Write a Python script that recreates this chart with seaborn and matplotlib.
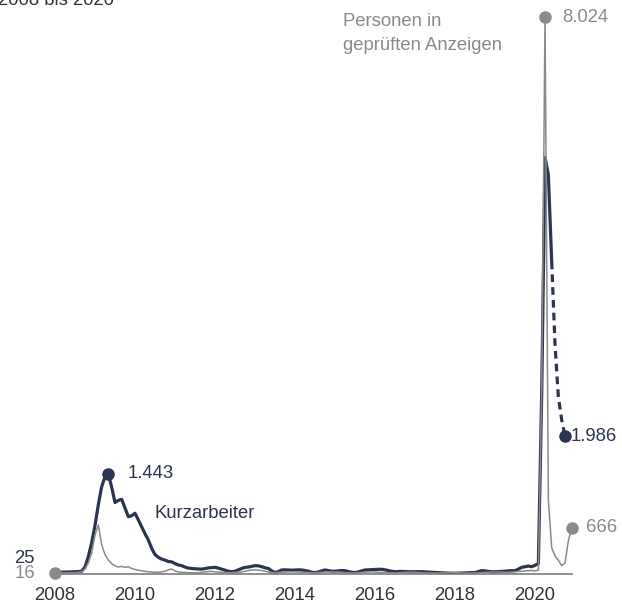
import numpy as np
import pandas as pd
import matplotlib
matplotlib.use("Agg")
import matplotlib.pyplot as plt
import seaborn as sns

# Monatswerte in Tausend Personen, ab Januar 2008
anzeigen = [
    16, 15, 15, 16, 17, 18, 20, 24, 35, 70, 160, 300,            # 2008
    560, 706, 420, 280, 200, 150, 120, 100, 110, 95, 105, 80,    # 2009
    65, 55, 45, 38, 32, 28, 25, 25, 30, 40, 60, 72,              # 2010
    45, 30, 25, 22, 20, 18, 18, 20, 25, 30, 35, 38,              # 2011
    30, 28, 25, 22, 20, 20, 22, 25, 30, 38, 50, 58,              # 2012
    60, 55, 50, 40, 30, 22, 20, 22, 25, 28, 30, 30,              # 2013
    30, 28, 25, 22, 20, 18, 18, 20, 24, 28, 30, 32,              # 2014
    30, 28, 24, 20, 18, 16, 16, 18, 22, 26, 28, 30,              # 2015
    28, 26, 22, 20, 18, 16, 15, 17, 20, 24, 26, 28,              # 2016
    24, 22, 18, 16, 15, 14, 14, 15, 17, 20, 22, 22,              # 2017
    20, 18, 16, 15, 14, 14, 15, 17, 20, 24, 26, 28,              # 2018
    30, 28, 26, 25, 26, 28, 32, 36, 40, 45, 48, 50,              # 2019
    45, 55, 2640, 8024, 1066, 380, 260, 200, 120, 160, 480, 666, # 2020
]

kurzarbeiter = [
    25, 25, 26, 27, 28, 30, 32, 35, 40, 100, 250, 450,           # 2008
    700, 1000, 1258, 1400, 1443, 1250, 1030, 1060, 1076, 950, 825, 840,  # 2009
    875, 780, 680, 580, 490, 370, 280, 240, 215, 200, 180, 175,  # 2010
    150, 130, 120, 100, 85, 80, 75, 72, 70, 78, 88, 92,          # 2011
    96, 85, 70, 55, 40, 33, 40, 60, 80, 95, 100, 110,            # 2012
    120, 118, 105, 90, 80, 45, 22, 35, 58, 60, 58, 55,           # 2013
    58, 60, 58, 50, 40, 25, 20, 30, 45, 58, 50, 40,              # 2014
    40, 45, 50, 48, 35, 25, 20, 30, 45, 58, 60, 62,              # 2015
    65, 68, 68, 60, 50, 40, 33, 35, 38, 35, 33, 33,              # 2016
    33, 33, 33, 30, 28, 25, 22, 20, 18, 15, 12, 10,              # 2017
    10, 12, 14, 16, 18, 20, 20, 35, 48, 45, 38, 33,              # 2018
    33, 35, 38, 40, 45, 48, 48, 70, 96, 105, 115, 105,           # 2019
    125, 150, 2600, 6000, 5750, 4500, 3300, 2550, 2220, 1986,    # 2020 (ab Juli geschaetzt)
]
letzter_ist = 149  # Juni 2020, danach gestrichelt

jahre = [2008, 2010, 2012, 2014, 2016, 2018, 2020]

dunkel = "#2b3450"
grau = "#8a8a8a"

df_a = pd.DataFrame({"jahr": 2008 + np.arange(len(anzeigen)) / 12, "wert": anzeigen})
df_k = pd.DataFrame({"jahr": 2008 + np.arange(len(kurzarbeiter)) / 12, "wert": kurzarbeiter})

sns.set_style("white")
plt.rcParams["font.family"] = ["Liberation Sans", "DejaVu Sans"]

fig = plt.figure(figsize=(6.22, 6.05), dpi=100)
ax = fig.add_axes([55 / 622, 31 / 605, 516.7 / 622, 557 / 605])

sns.lineplot(data=df_k.iloc[:letzter_ist + 1], x="jahr", y="wert", ax=ax,
             color=dunkel, linewidth=2.3, zorder=2)
sns.lineplot(data=df_k.iloc[letzter_ist:], x="jahr", y="wert", ax=ax,
             color=dunkel, linewidth=2.3, linestyle=(0, (2.4, 1.6)), zorder=2)
sns.lineplot(data=df_a, x="jahr", y="wert", ax=ax,
             color=grau, linewidth=1.1, zorder=3)

# Markierungen
i_peak09 = int(np.argmax(kurzarbeiter[:40]))
i_peak20 = int(np.argmax(anzeigen))
ax.plot(df_k.jahr[i_peak09], df_k.wert[i_peak09], "o", color=dunkel, ms=8, zorder=5, clip_on=False)
ax.plot(df_k.jahr.iloc[-1], df_k.wert.iloc[-1], "o", color=dunkel, ms=8, zorder=5, clip_on=False)
ax.plot(df_a.jahr[i_peak20], df_a.wert[i_peak20], "o", color=grau, ms=8, zorder=5, clip_on=False)
ax.plot(df_a.jahr.iloc[-1], df_a.wert.iloc[-1], "o", color=grau, ms=8, zorder=5, clip_on=False)
ax.plot(df_a.jahr[0], df_a.wert[0], "o", color=grau, ms=8, zorder=5, clip_on=False)

def fmt(v):
    return f"{v:,}".replace(",", ".")

fs = 13.3
ax.annotate(fmt(kurzarbeiter[i_peak09]), (df_k.jahr[i_peak09], kurzarbeiter[i_peak09]),
            xytext=(19, 0), textcoords="offset pixels", ha="left", va="center",
            fontsize=fs, color=dunkel)
ax.annotate(fmt(kurzarbeiter[-1]), (df_k.jahr.iloc[-1], kurzarbeiter[-1]),
            xytext=(6, 0), textcoords="offset pixels", ha="left", va="center",
            fontsize=fs, color=dunkel, annotation_clip=False)
ax.annotate(fmt(anzeigen[i_peak20]), (df_a.jahr[i_peak20], anzeigen[i_peak20]),
            xytext=(17, 0), textcoords="offset pixels", ha="left", va="center",
            fontsize=fs, color=grau, annotation_clip=False)
ax.annotate(fmt(anzeigen[-1]), (df_a.jahr.iloc[-1], anzeigen[-1]),
            xytext=(14, 0), textcoords="offset pixels", ha="left", va="center",
            fontsize=fs, color=grau, annotation_clip=False)
ax.annotate(fmt(kurzarbeiter[0]), (2008, kurzarbeiter[0]),
            xytext=(-20, 14), textcoords="offset pixels", ha="right", va="center",
            fontsize=fs, color=dunkel, annotation_clip=False)
ax.annotate(fmt(anzeigen[0]), (2008, anzeigen[0]),
            xytext=(-20, -1), textcoords="offset pixels", ha="right", va="center",
            fontsize=fs, color=grau, annotation_clip=False)

fig.text(155 / 622, 1 - 513 / 605, "Kurzarbeiter", ha="left", va="center",
         fontsize=fs, color=dunkel)
fig.text(343 / 622, 1 - 22 / 605, "Personen in", ha="left", va="center",
         fontsize=fs, color=grau)
fig.text(343 / 622, 1 - 46 / 605, "geprüften Anzeigen", ha="left", va="center",
         fontsize=fs, color=grau)
# Untertitel, oben vom Bildrand angeschnitten wie im Original
fig.text(-0.004, 1 - 5 / 605, "2008 bis 2020", ha="left", va="baseline",
         fontsize=fs, color="#333333")

ax.set_xlim(2008, 2020 + 11 / 12)
ax.set_ylim(0, 8024)
ax.set_xticks(jahre)
ax.set_xticklabels([str(j) for j in jahre])
ax.set_yticks([])
ax.set_xlabel("")
ax.set_ylabel("")
sns.despine(ax=ax, left=True)
ax.spines["bottom"].set_color("#707070")
ax.spines["bottom"].set_linewidth(1.1)
ax.tick_params(axis="x", length=0, pad=9.5, labelsize=fs, labelcolor="#333333")

fig.savefig("out.png", dpi=100)
